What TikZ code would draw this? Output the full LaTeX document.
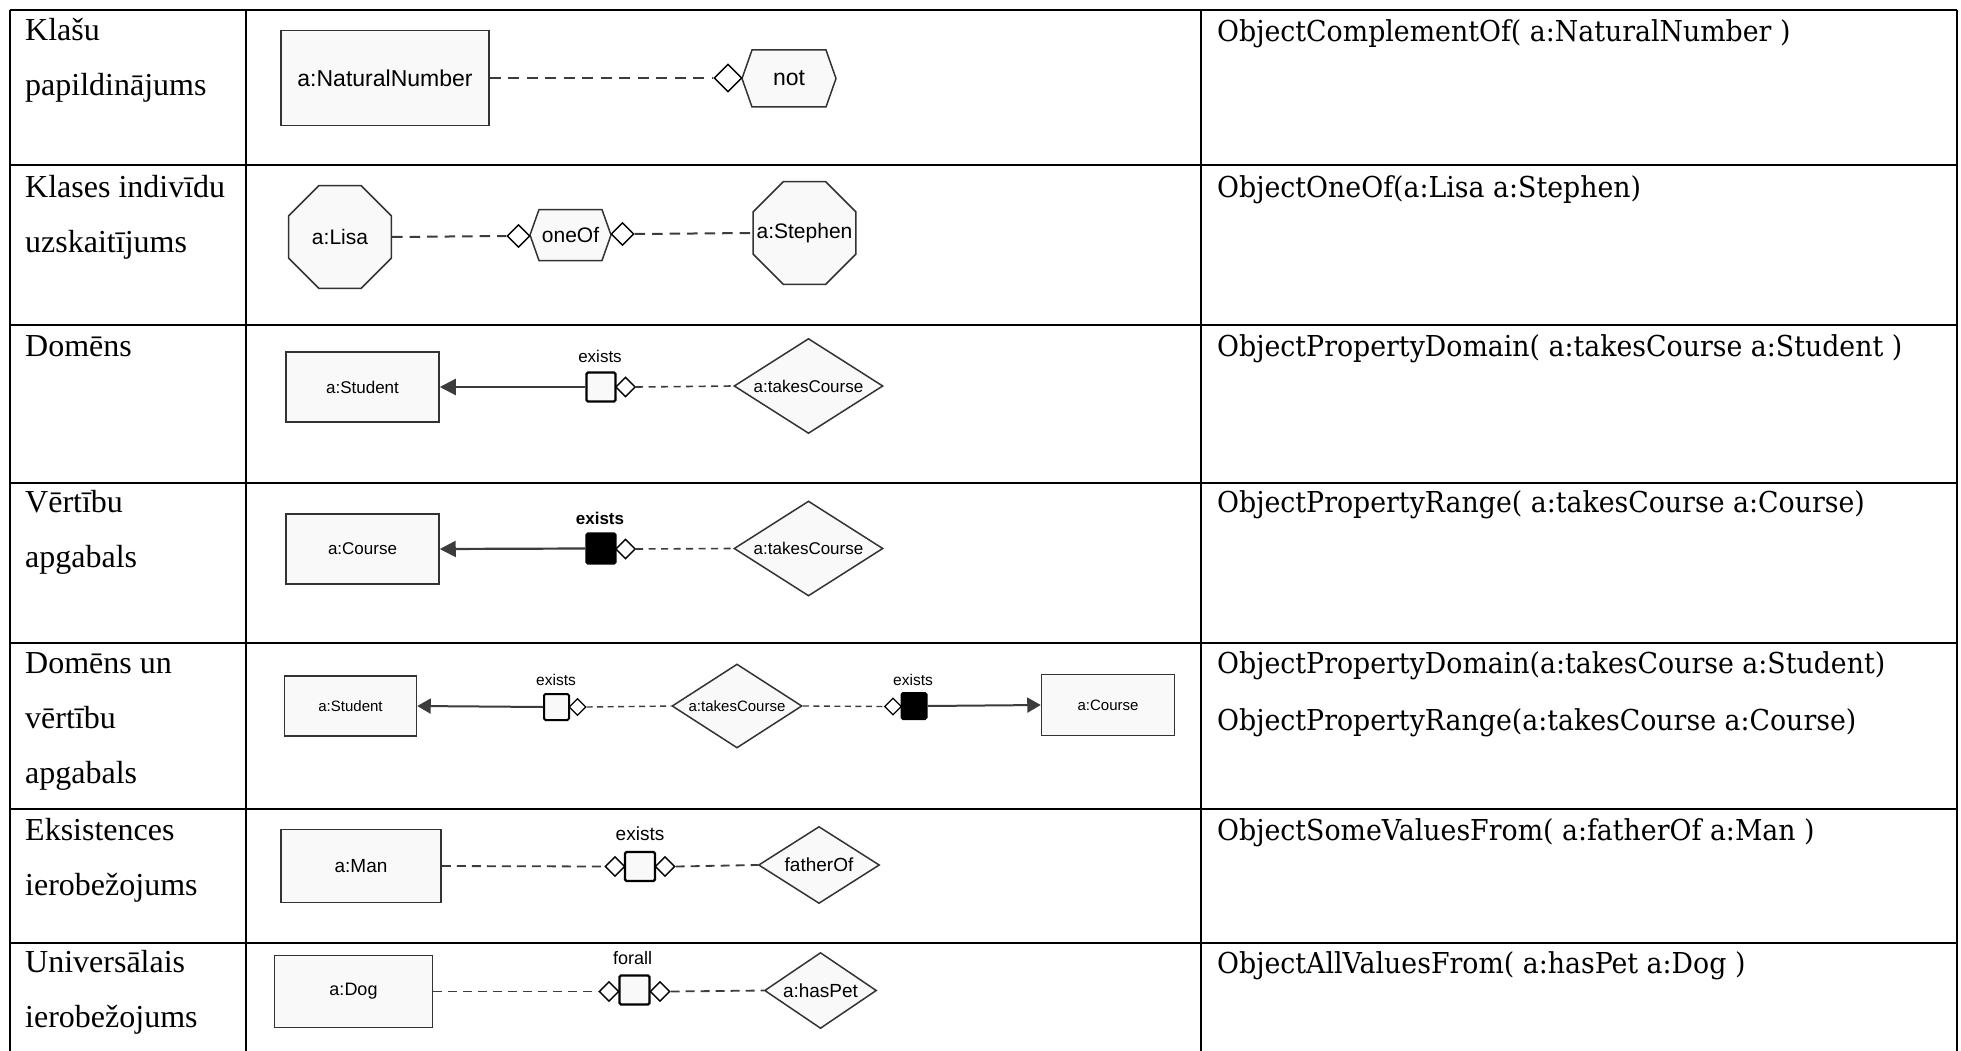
\documentclass[tikz,border=0pt]{standalone}
\usepackage{fontspec}
\setmainfont{Liberation Serif}
\newfontfamily\diagfont{Liberation Sans}
\newfontfamily\owlfont[FakeStretch=0.93]{DejaVu Serif}
\usetikzlibrary{shapes.geometric,arrows.meta}
\pgfdeclarelayer{bg}
\pgfsetlayers{bg,main}
\definecolor{shapefill}{HTML}{F9F9F9}
\definecolor{shapeline}{HTML}{333333}
\definecolor{linkcol}{HTML}{3C3C3C}
\newcommand\dsize[1]{\diagfont\fontsize{#1}{#1}\selectfont}
% hexagon outline (pointed left and right) behind a named node
\newcommand\hexoutline[2]{%
  \begin{pgfonlayer}{bg}
    \draw[draw=shapeline, fill=shapefill, line width=1.5pt, line join=miter]
      (#1.west) -- ([xshift=#2]#1.north west) -- ([xshift=-#2]#1.north east)
      -- (#1.east) -- ([xshift=-#2]#1.south east) -- ([xshift=#2]#1.south west) -- cycle;
  \end{pgfonlayer}}
\tikzset{
  tablerule/.style={line width=2.3pt, draw=black},
  rowlabel/.style={anchor=base west, inner sep=0, font=\fontsize{32}{38}\selectfont},
  owltext/.style={anchor=base west, inner sep=0, font=\owlfont\fontsize{28.8}{34}\selectfont},
  classbox/.style={draw=shapeline, fill=shapefill, line width=1.5pt, inner sep=0},
  octbox/.style={regular polygon, regular polygon sides=8, draw=shapeline, fill=shapefill, line width=1.5pt, inner sep=0},
  propbox/.style={diamond, draw=shapeline, fill=shapefill, line width=1.5pt, inner sep=0},
  hexbox/.style={inner sep=0, outer sep=0},
  joint/.style={diamond, draw=black, fill=white, line width=1.4pt, inner sep=0},
  restr/.style={draw=black, fill=shapefill, line width=2.4pt, rounded corners=1.5pt, inner sep=0},
  restrfull/.style={restr, fill=black},
  qlabel/.style={anchor=base, inner sep=0},
  dline/.style={draw=linkcol, line width=#1},
  dline/.default=2pt,
  sline/.style={draw=linkcol, line width=2.2pt},
}
\begin{document}
\begin{tikzpicture}[x=1pt, y=-1pt]
\useasboundingbox (0,0) rectangle (1961,1051);
\begin{pgfonlayer}{bg}
  \fill[white] (0,0) rectangle (1961,1051);
\end{pgfonlayer}

% ---- table grid ----
\foreach \yy in {10,165,325,483,643,809,943}
  \draw[tablerule] (10,\yy) -- (1957,\yy);
\foreach \xx in {10,246,1201,1957}
  \draw[tablerule] (\xx,10) -- (\xx,1051);

% ---- first column: construct names ----
\node[rowlabel] (n1a) at (25,41) {Klašu};
\node[rowlabel] (n1b) at (25,96) {papildinājums};
\node[rowlabel] (n2a) at (25,197) {Klases indivīdu};
\node[rowlabel] (n2b) at (25,252) {uzskaitījums};
\node[rowlabel] (n3a) at (25,356) {Domēns};
\node[rowlabel] (n4a) at (25,512) {Vērtību};
\node[rowlabel] (n4b) at (25,567) {apgabals};
\node[rowlabel] (n5a) at (25,673) {Domēns un};
\node[rowlabel] (n5b) at (25,728) {vērtību};
\node[rowlabel] (n5c) at (25,783) {apgabals};
\node[rowlabel] (n6a) at (25,840) {Eksistences};
\node[rowlabel] (n6b) at (25,895) {ierobežojums};
\node[rowlabel] (n7a) at (25,972) {Universālais};
\node[rowlabel] (n7b) at (25,1027) {ierobežojums};

% ---- third column: OWL functional syntax ----
\node[owltext] (o1) at (1217,42) {ObjectComplementOf( a:NaturalNumber )};
\node[owltext] (o2) at (1217,197) {ObjectOneOf(a:Lisa a:Stephen)};
\node[owltext] (o3) at (1217,356) {ObjectPropertyDomain( a:takesCourse a:Student )};
\node[owltext] (o4) at (1217,512) {ObjectPropertyRange( a:takesCourse a:Course)};
\node[owltext] (o5a) at (1217,673) {ObjectPropertyDomain(a:takesCourse a:Student)};
\node[owltext] (o5b) at (1217,730) {ObjectPropertyRange(a:takesCourse a:Course)};
\node[owltext] (o6) at (1217,840) {ObjectSomeValuesFrom( a:fatherOf a:Man )};
\node[owltext] (o7) at (1217,973) {ObjectAllValuesFrom( a:hasPet a:Dog )};

% ---- row 1: complement ----
\node[classbox, minimum width=208pt, minimum height=95pt, font=\dsize{23}] (natnum) at (385,78) {a:NaturalNumber};
\node[joint, minimum width=28pt, minimum height=28pt] (j1) at (728,78) {};
\node[hexbox, minimum width=94pt, minimum height=57pt, font=\dsize{23}] (notop) at (789,78.5) {not};
\hexoutline{notop}{10pt}
\draw[dline=2pt, dash pattern=on 11pt off 7.5pt] (natnum.east) -- (j1.west);

% ---- row 2: enumeration ----
\node[octbox, minimum size=111pt, font=\dsize{21}] (lisa) at (340,237) {\makebox[0pt]{a:Lisa}};
\node[joint, minimum width=23pt, minimum height=23pt] (j2a) at (518.5,236) {};
\node[hexbox, minimum width=81pt, minimum height=51pt, font=\dsize{21}] (oneof) at (570.5,235) {oneOf};
\hexoutline{oneof}{9pt}
\node[joint, minimum width=23pt, minimum height=23pt] (j2b) at (622.5,234) {};
\node[octbox, minimum size=111pt, font=\dsize{21}] (stephen) at (804.5,233) {\makebox[0pt]{a:Stephen}};
\draw[dline=2pt, dash pattern=on 10.5pt off 7pt] (lisa.east) -- (j2a.west);
\draw[dline=2pt, dash pattern=on 10.5pt off 7pt] (j2b.east) -- (stephen.west);

% ---- row 3: domain ----
\node[classbox, minimum width=153pt, minimum height=70pt, font=\dsize{17}] (student3) at (362.5,387) {a:Student};
\node[restr, minimum width=29pt, minimum height=29pt] (ex3) at (601,387) {};
\node[qlabel, font=\dsize{17}] (ex3lab) at (600,362) {exists};
\node[joint, minimum width=20pt, minimum height=20pt] (j3) at (625.5,387) {};
\node[propbox, aspect=1.57, minimum width=149pt, minimum height=95pt, font=\dsize{17}] (takes3) at (808.5,386) {a:takesCourse};
\draw[sline, -{Triangle[length=16pt,width=16pt]}] (ex3.west) -- (student3.east);
\draw[dline=1.6pt, dash pattern=on 7pt off 5.5pt] (j3.east) -- (takes3.west);

% ---- row 4: range ----
\node[classbox, minimum width=153pt, minimum height=70pt, font=\dsize{17}] (course4) at (362.5,549) {a:Course};
\node[restrfull, minimum width=29pt, minimum height=30pt] (ex4) at (601,548.5) {};
\node[qlabel, font=\dsize{17}\bfseries] (ex4lab) at (600,524) {exists};
\node[joint, minimum width=20pt, minimum height=20pt] (j4) at (625.5,549) {};
\node[propbox, aspect=1.57, minimum width=149pt, minimum height=95pt, font=\dsize{17}] (takes4) at (808.5,548.5) {a:takesCourse};
\draw[sline, -{Triangle[length=16pt,width=16pt]}] (ex4.west) -- (course4.east);
\draw[dline=1.6pt, dash pattern=on 7pt off 5.5pt] (j4.east) -- (takes4.west);

% ---- row 5: domain and range ----
\node[classbox, minimum width=132pt, minimum height=60pt, font=\dsize{15}] (student5) at (350.5,706) {a:Student};
\node[restr, line width=2pt, minimum width=25pt, minimum height=26pt] (ex5a) at (556.5,707) {};
\node[qlabel, font=\dsize{15.5}] (ex5alab) at (556,685) {exists};
\node[joint, line width=1.2pt, minimum width=17pt, minimum height=17pt] (j5a) at (577.5,707) {};
\node[propbox, aspect=1.55, minimum width=130pt, minimum height=84pt, font=\dsize{15}] (takes5) at (737,706) {a:takesCourse};
\node[joint, line width=1.2pt, minimum width=17pt, minimum height=17pt] (j5b) at (893,706.5) {};
\node[restrfull, line width=2pt, minimum width=25pt, minimum height=26pt] (ex5b) at (914,706) {};
\node[qlabel, font=\dsize{15.5}] (ex5blab) at (913,685) {exists};
\node[classbox, minimum width=133pt, minimum height=61pt, font=\dsize{15}] (course5) at (1108,705) {a:Course};
\draw[sline, line width=2pt, -{Triangle[length=13.5pt,width=15pt]}] (ex5a.west) -- (student5.east);
\draw[sline, line width=2pt, -{Triangle[length=13.5pt,width=15pt]}] (ex5b.east) -- (course5.west);
\draw[dline=1.4pt, dash pattern=on 6pt off 4.5pt] (j5a.east) -- (takes5.west);
\draw[dline=1.4pt, dash pattern=on 6pt off 4.5pt] (takes5.east) -- (j5b.west);

% ---- row 6: existential restriction ----
\node[classbox, minimum width=160pt, minimum height=73pt, font=\dsize{19}] (man) at (361,866) {a:Man};
\node[joint, minimum width=20pt, minimum height=20pt] (j6a) at (615,866.5) {};
\node[restr, minimum width=30pt, minimum height=29pt] (ex6) at (640,866.5) {};
\node[joint, minimum width=20pt, minimum height=20pt] (j6b) at (665,866.5) {};
\node[qlabel, font=\dsize{19}] (ex6lab) at (640,840) {exists};
\node[propbox, aspect=1.57, minimum width=121pt, minimum height=77pt, font=\dsize{19}] (father) at (819,865) {fatherOf};
\draw[dline=1.8pt, dash pattern=on 9pt off 6pt] (man.east) -- (j6a.west);
\draw[dline=1.8pt, dash pattern=on 9pt off 6pt] (j6b.east) -- (father.west);

% ---- row 7: universal restriction ----
\node[classbox, minimum width=158pt, minimum height=72pt, font=\dsize{18}] (dog) at (353.5,991.5) {a:Dog};
\node[joint, minimum width=20pt, minimum height=20pt] (j7a) at (609,991.5) {};
\node[restr, minimum width=30pt, minimum height=29pt] (all7) at (634.5,990) {};
\node[joint, minimum width=20pt, minimum height=20pt] (j7b) at (660,991.5) {};
\node[qlabel, font=\dsize{18}] (all7lab) at (632.5,964) {forall};
\node[propbox, aspect=1.47, minimum width=112pt, minimum height=76pt, font=\dsize{19}] (haspet) at (820.5,990.5) {a:hasPet};
\draw[dline=1.8pt, dash pattern=on 9pt off 6pt] (dog.east) -- (j7a.west);
\draw[dline=1.8pt, dash pattern=on 9pt off 6pt] (j7b.east) -- (haspet.west);
\end{tikzpicture}
\end{document}
